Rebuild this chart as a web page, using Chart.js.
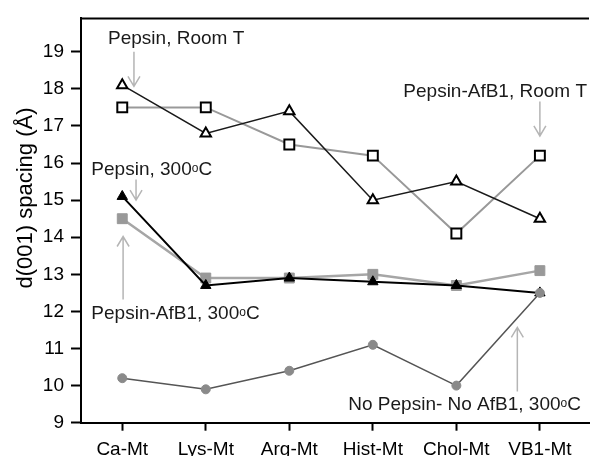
<!DOCTYPE html>
<html lang="en">
<head>
  <meta charset="UTF-8">
  <title>d(001) spacing</title>
  <script src="https://cdn.jsdelivr.net/npm/chart.js"></script>
</head>
<style>
  body {
    margin: 0;
    padding: 0;
    background: #fff;
    overflow: hidden;
  }
</style>

<body>
<canvas id="spacingChart" width="598" height="456"></canvas>

<script>
  const categories = ['Ca-Mt', 'Lys-Mt', 'Arg-Mt', 'Hist-Mt', 'Chol-Mt', 'VB1-Mt'];
  const yTicks = [9, 10, 11, 12, 13, 14, 15, 16, 17, 18, 19];

  const pepsinRoomT = [18.1, 16.8, 17.4, 15.0, 15.5, 14.5];
  const afb1RoomT = [17.5, 17.5, 16.5, 16.2, 14.1, 16.2];
  const pepsin300 = [15.1, 12.7, 12.9, 12.8, 12.7, 12.5];
  const afb1300 = [14.5, 12.9, 12.9, 13.0, 12.7, 13.1];
  const noPepsin300 = [10.2, 9.9, 10.4, 11.1, 10.0, 12.5];

  // labels with arrows, placed in data units (^o = small raised o)
  const notes = [
    { text: 'Pepsin, Room T', x: -0.17, y: 19.22, ax: 0.14, from: 19.0, to: 18.07 },
    { text: 'Pepsin, 300^oC', x: -0.37, y: 15.68, ax: 0.165, from: 15.56, to: 15.0 },
    { text: 'Pepsin-AfB1, 300^oC', x: -0.37, y: 11.79, ax: 0.01, from: 12.32, to: 14.02 },
    { text: 'Pepsin-AfB1, Room T', x: 3.365, y: 17.79, ax: 5.0, from: 17.66, to: 16.73 },
    { text: 'No Pepsin- No AfB1, 300^oC', x: 2.706, y: 9.34, ax: 4.73, from: 9.84, to: 11.57 }
  ];

  const FONT = "'Liberation Sans', Arial, sans-serif";
  Chart.defaults.font.family = FONT;
  Chart.defaults.color = '#000';

  function toPoints(arr) {
    return arr.map((v, i) => ({ x: i, y: v }));
  }

  const notesPlugin = {
    id: 'notes',
    afterDraw(chart) {
      const ctx = chart.ctx;
      const xs = chart.scales.x;
      const ys = chart.scales.y;
      const area = chart.chartArea;

      // top frame line
      ctx.save();
      ctx.strokeStyle = '#000';
      ctx.lineWidth = 2;
      ctx.beginPath();
      ctx.moveTo(area.left - 1, area.top);
      ctx.lineTo(area.right, area.top);
      ctx.stroke();
      ctx.restore();

      // y axis title
      ctx.save();
      ctx.translate(26, 198);
      ctx.rotate(-Math.PI / 2);
      ctx.font = '22px ' + FONT;
      ctx.fillStyle = '#000';
      ctx.textAlign = 'center';
      ctx.textBaseline = 'middle';
      ctx.fillText('d(001) spacing (Å)', 0, 0);
      ctx.restore();

      notes.forEach(n => {
        // arrow
        const ax = xs.getPixelForValue(n.ax);
        const y1 = ys.getPixelForValue(n.from);
        const y2 = ys.getPixelForValue(n.to);
        const dir = y2 > y1 ? 1 : -1;
        ctx.save();
        ctx.strokeStyle = '#b5b5b5';
        ctx.lineWidth = 1.5;
        ctx.beginPath();
        ctx.moveTo(ax, y1);
        ctx.lineTo(ax, y2);
        ctx.moveTo(ax - 6, y2 - dir * 10);
        ctx.lineTo(ax, y2);
        ctx.lineTo(ax + 6, y2 - dir * 10);
        ctx.stroke();
        ctx.restore();

        // text
        ctx.save();
        ctx.fillStyle = '#1a1a1a';
        ctx.textBaseline = 'alphabetic';
        let px = xs.getPixelForValue(n.x);
        const py = ys.getPixelForValue(n.y);
        const parts = n.text.split('^o');
        parts.forEach((p, i) => {
          ctx.font = '19px ' + FONT;
          ctx.fillText(p, px, py);
          px += ctx.measureText(p).width;
          if (i < parts.length - 1) {
            ctx.font = '12px ' + FONT;
            ctx.fillText('o', px, py - 3);
            px += ctx.measureText('o').width;
          }
        });
        ctx.restore();
      });
    }
  };

  const ctx = document.getElementById('spacingChart').getContext('2d');
  const spacingChart = new Chart(ctx, {
    type: 'line',
    data: {
      datasets: [
        {
          label: 'Pepsin, Room T',
          data: toPoints(pepsinRoomT),
          borderColor: '#1a1a1a',
          borderWidth: 1.5,
          pointStyle: 'triangle',
          pointRadius: 6,
          pointBackgroundColor: '#fff',
          pointBorderColor: '#000',
          pointBorderWidth: 2
        },
        {
          label: 'Pepsin-AfB1, Room T',
          data: toPoints(afb1RoomT),
          borderColor: '#999',
          borderWidth: 2,
          pointStyle: 'rect',
          pointRadius: 7,
          pointBackgroundColor: '#fff',
          pointBorderColor: '#000',
          pointBorderWidth: 2
        },
        {
          label: 'Pepsin, 300oC',
          data: toPoints(pepsin300),
          borderColor: '#000',
          borderWidth: 2,
          pointStyle: 'triangle',
          pointRadius: 6,
          pointBackgroundColor: '#000',
          pointBorderColor: '#000',
          pointBorderWidth: 1
        },
        {
          label: 'Pepsin-AfB1, 300oC',
          data: toPoints(afb1300),
          borderColor: '#a6a6a6',
          borderWidth: 2.5,
          pointStyle: 'rect',
          pointRadius: 7,
          pointBackgroundColor: '#999',
          pointBorderColor: '#999',
          pointBorderWidth: 1
        },
        {
          label: 'No Pepsin- No AfB1, 300oC',
          data: toPoints(noPepsin300),
          borderColor: '#555',
          borderWidth: 1.5,
          pointStyle: 'circle',
          pointRadius: 4.5,
          pointBackgroundColor: '#8a8a8a',
          pointBorderColor: '#8a8a8a',
          pointBorderWidth: 1,
          order: -1
        }
      ]
    },
    options: {
      responsive: false,
      animation: false,
      layout: { padding: { top: 12.7, right: 0, bottom: 0, left: 0 } },
      plugins: {
        legend: { display: false },
        tooltip: { enabled: false }
      },
      scales: {
        x: {
          type: 'linear',
          min: -0.494,
          max: 5.588,
          afterBuildTicks: s => { s.ticks = categories.map((c, i) => ({ value: i })); },
          afterFit: s => { s.height = 33.3; },
          ticks: {
            callback: v => categories[v],
            font: { size: 19 },
            padding: 8,
            maxRotation: 0,
            autoSkip: false
          },
          grid: {
            drawOnChartArea: false,
            drawTicks: true,
            tickLength: 8,
            tickWidth: 2,
            tickColor: '#000'
          },
          border: { display: true, color: '#000', width: 2 }
        },
        y: {
          min: 9,
          max: 19.9,
          afterBuildTicks: s => { s.ticks = yTicks.map(v => ({ value: v })); },
          afterFit: s => { s.width = 81; },
          ticks: {
            font: { size: 19 },
            padding: 7
          },
          grid: {
            drawOnChartArea: false,
            drawTicks: true,
            tickLength: 10,
            tickWidth: 2,
            tickColor: '#000'
          },
          border: { display: true, color: '#000', width: 2 }
        }
      }
    },
    plugins: [notesPlugin]
  });
</script>

</body>
</html>
